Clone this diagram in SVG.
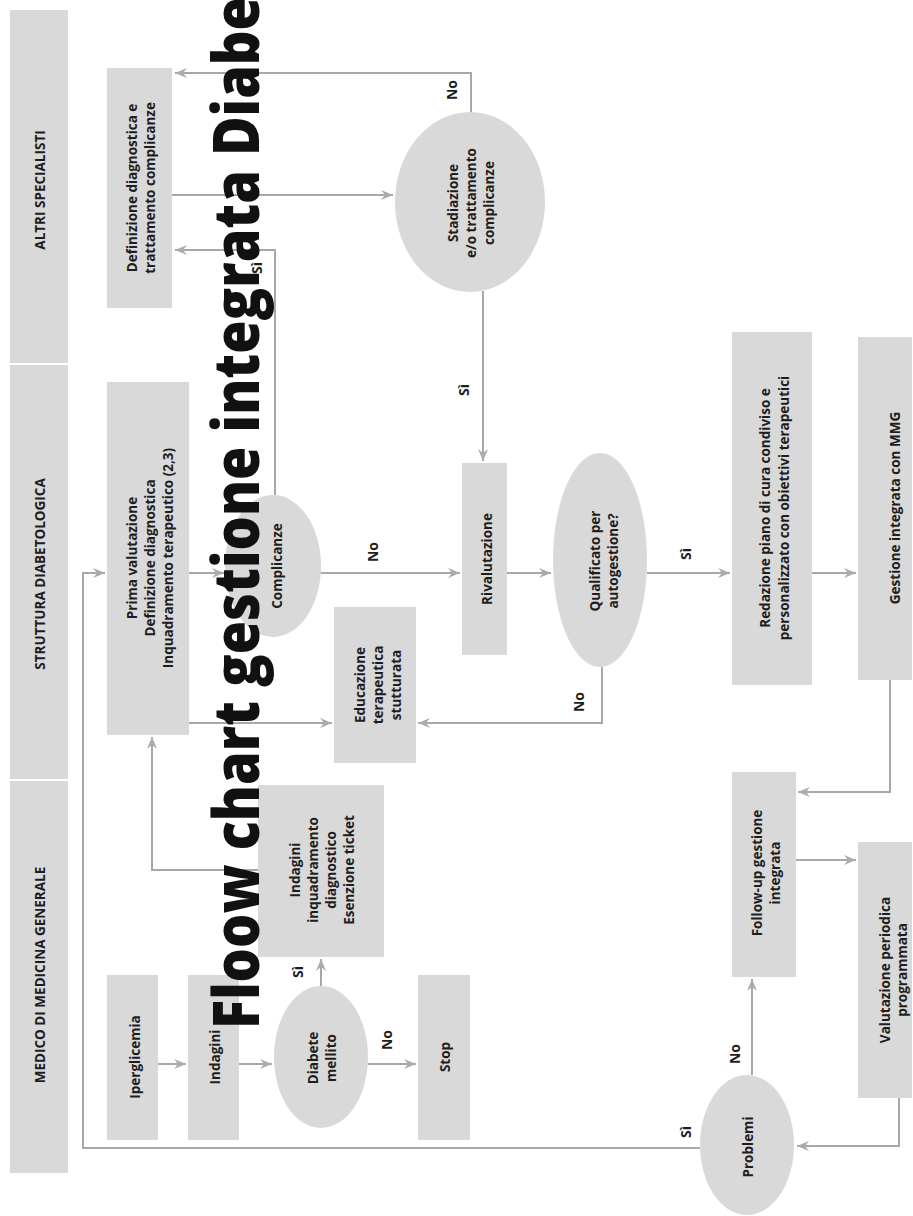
<svg xmlns="http://www.w3.org/2000/svg" width="913" height="1216" viewBox="0 0 913 1216">
<style>
.bg{fill:#ffffff}
.hd{fill:#d9d9d9}
.box{fill:#d9d9d9}
.t{font-family:"Open Sans","Liberation Sans",sans-serif;font-weight:700;font-size:13.5px;fill:#1e1e1e;text-anchor:middle}
.lb{font-family:"Open Sans","Liberation Sans",sans-serif;font-weight:700;font-size:14px;fill:#1e1e1e;text-anchor:middle}
.c{fill:none;stroke:#a8a8a8;stroke-width:2;marker-end:url(#ah)}
.wm{font-family:"Open Sans","Liberation Sans",sans-serif;font-weight:800;font-size:63px;fill:#111111}
</style>
<defs>
<marker id="ah" markerUnits="userSpaceOnUse" markerWidth="13" markerHeight="11" refX="12" refY="5" orient="auto">
<path d="M0,0 L12,5 L0,10 L4,5 z" fill="#ababab"/>
</marker>
</defs>
<rect class="bg" x="0" y="0" width="913" height="1216"/>

<g id="lanes">
<g id="lane-altri">
<rect class="hd" x="10" y="10" width="58" height="353"/>
<text class="t" transform="translate(45,190) rotate(-90)">ALTRI SPECIALISTI</text>
</g>
<g id="lane-struttura">
<rect class="hd" x="10" y="365" width="58" height="414"/>
<text class="t" transform="translate(45,574) rotate(-90)">STRUTTURA DIABETOLOGICA</text>
</g>
<g id="lane-medico">
<rect class="hd" x="10" y="781" width="58" height="392"/>
<text class="t" transform="translate(45,975) rotate(-90)">MEDICO DI MEDICINA GENERALE</text>
</g>
</g>

<g id="connectors">
<path class="c" d="M471,112 V73 H175"/>
<path class="c" d="M172,195 H393"/>
<path class="c" d="M275,495 V250 H175"/>
<path class="c" d="M483,291 V461"/>
<path class="c" d="M189,573 H224"/>
<path class="c" d="M320,573 H460"/>
<path class="c" d="M507,573 H551"/>
<path class="c" d="M647,573 H730"/>
<path class="c" d="M812,573 H856"/>
<path class="c" d="M602,667 V723 H418"/>
<path class="c" d="M189,723 H332"/>
<path class="c" d="M890,680 V792 H798"/>
<path class="c" d="M796,860 H856"/>
<path class="c" d="M899,1098 V1146 H797"/>
<path class="c" d="M752,1075 V979"/>
<path class="c" d="M700,1148 H83 V573 H105"/>
<path class="c" d="M258,870 H152 V737"/>
<path class="c" d="M158,1064 H186"/>
<path class="c" d="M239,1064 H272"/>
<path class="c" d="M368,1064 H416"/>
<path class="c" d="M321,986 V959"/>
<text class="lb" transform="translate(457,90) rotate(-90)">No</text>
<text class="lb" transform="translate(262,268) rotate(-90)">Sì</text>
<text class="lb" transform="translate(469,390) rotate(-90)">Sì</text>
<text class="lb" transform="translate(378,552) rotate(-90)">No</text>
<text class="lb" transform="translate(691,554) rotate(-90)">Sì</text>
<text class="lb" transform="translate(584,702) rotate(-90)">No</text>
<text class="lb" transform="translate(303,972) rotate(-90)">Sì</text>
<text class="lb" transform="translate(392,1040) rotate(-90)">No</text>
<text class="lb" transform="translate(740,1054) rotate(-90)">No</text>
<text class="lb" transform="translate(691,1132) rotate(-90)">Sì</text>
</g>

<g id="n-definizione">
<rect class="box" x="107" y="68" width="65" height="240"/>
<text class="t" transform="translate(137,188) rotate(-90)"><tspan x="0" dy="0">Definizione diagnostica e</tspan><tspan x="0" dy="18">trattamento complicanze</tspan></text>
</g>
<g id="n-stadiazione">
<ellipse class="box" cx="470" cy="202" rx="75" ry="90"/>
<text class="t" transform="translate(458,203) rotate(-90)"><tspan x="0" dy="0">Stadiazione</tspan><tspan x="0" dy="18">e/o trattamento</tspan><tspan x="0" dy="18">complicanze</tspan></text>
</g>
<g id="n-prima">
<rect class="box" x="107" y="382" width="82" height="353"/>
<text class="t" transform="translate(137,558) rotate(-90)"><tspan x="0" dy="0">Prima valutazione</tspan><tspan x="0" dy="18">Definizione diagnostica</tspan><tspan x="0" dy="18">Inquadramento terapeutico (2,3)</tspan></text>
</g>
<g id="n-complicanze">
<ellipse class="box" cx="273" cy="566" rx="48" ry="71"/>
<text class="t" transform="translate(282,566) rotate(-90)">Complicanze</text>
</g>
<g id="n-educazione">
<rect class="box" x="334" y="607" width="82" height="156"/>
<text class="t" transform="translate(365,685) rotate(-90)"><tspan x="0" dy="0">Educazione</tspan><tspan x="0" dy="18">terapeutica</tspan><tspan x="0" dy="18">stutturata</tspan></text>
</g>
<g id="n-rivalutazione">
<rect class="box" x="462" y="463" width="45" height="192"/>
<text class="t" transform="translate(492,559) rotate(-90)">Rivalutazione</text>
</g>
<g id="n-qualificato">
<ellipse class="box" cx="600" cy="560" rx="47" ry="107"/>
<text class="t" transform="translate(600,561) rotate(-90)"><tspan x="0" dy="0">Qualificato per</tspan><tspan x="0" dy="18">autogestione?</tspan></text>
</g>
<g id="n-redazione">
<rect class="box" x="732" y="332" width="80" height="353"/>
<text class="t" transform="translate(770,508) rotate(-90)"><tspan x="0" dy="0">Redazione piano di cura condiviso e</tspan><tspan x="0" dy="19">personalizzato con obiettivi terapeutici</tspan></text>
</g>
<g id="n-gestione">
<rect class="box" x="858" y="337" width="54" height="343"/>
<text class="t" transform="translate(900,508) rotate(-90)">Gestione integrata con MMG</text>
</g>
<g id="n-indagini-inq">
<rect class="box" x="258" y="785" width="126" height="172"/>
<text class="t" transform="translate(300,870) rotate(-90)"><tspan x="0" dy="0">Indagini</tspan><tspan x="0" dy="18">inquadramento</tspan><tspan x="0" dy="18">diagnostico</tspan><tspan x="0" dy="18">Esenzione ticket</tspan></text>
</g>
<g id="n-iperglicemia">
<rect class="box" x="107" y="975" width="51" height="165"/>
<text class="t" transform="translate(140,1057) rotate(-90)">Iperglicemia</text>
</g>
<g id="n-indagini">
<rect class="box" x="188" y="975" width="51" height="165"/>
<text class="t" transform="translate(220,1057) rotate(-90)">Indagini</text>
</g>
<g id="n-diabete">
<ellipse class="box" cx="321" cy="1057" rx="47" ry="71"/>
<text class="t" transform="translate(318,1058) rotate(-90)"><tspan x="0" dy="0">Diabete</tspan><tspan x="0" dy="18">mellito</tspan></text>
</g>
<g id="n-stop">
<rect class="box" x="418" y="975" width="52" height="165"/>
<text class="t" transform="translate(450,1057) rotate(-90)">Stop</text>
</g>
<g id="n-followup">
<rect class="box" x="732" y="772" width="64" height="205"/>
<text class="t" transform="translate(762,873) rotate(-90)"><tspan x="0" dy="0">Follow-up gestione</tspan><tspan x="0" dy="18">integrata</tspan></text>
</g>
<g id="n-valutazione">
<rect class="box" x="858" y="842" width="54" height="256"/>
<text class="t" transform="translate(890,970) rotate(-90)"><tspan x="0" dy="0">Valutazione periodica</tspan><tspan x="0" dy="17">programmata</tspan></text>
</g>
<g id="n-problemi">
<ellipse class="box" cx="747" cy="1145" rx="47" ry="70"/>
<text class="t" transform="translate(753,1147) rotate(-90)">Problemi</text>
</g>

<g id="watermark">
<text class="wm" transform="translate(259,1029) rotate(-90)" textLength="1032" lengthAdjust="spacingAndGlyphs">Floow chart gestione integrata Diabe</text>
</g>
</svg>
